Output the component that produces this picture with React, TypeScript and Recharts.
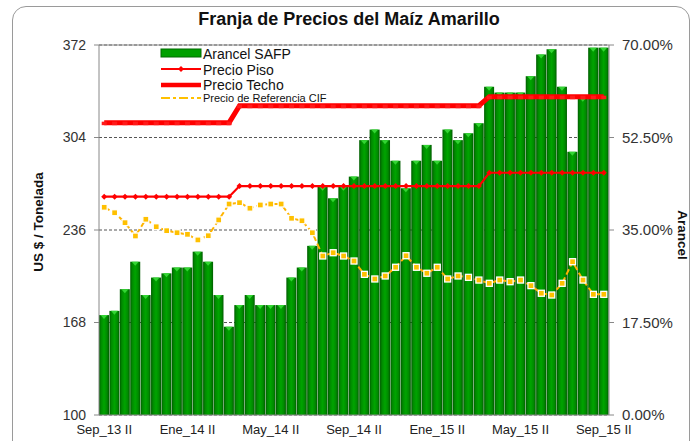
import React from 'react';
import { ComposedChart, Bar, Line, XAxis, YAxis, CartesianGrid, ReferenceLine } from 'recharts';

const FONT = '"Liberation Sans", Arial, sans-serif';

const categories = [
  'Sep_13 II', 'Oct_13 I', 'Oct_13 II', 'Nov_13 I', 'Nov_13 II', 'Dic_13 I', 'Dic_13 II',
  'Ene_14 I', 'Ene_14 II', 'Feb_14 I', 'Feb_14 II', 'Mar_14 I', 'Mar_14 II', 'Abr_14 I', 'Abr_14 II',
  'May_14 I', 'May_14 II', 'Jun_14 I', 'Jun_14 II', 'Jul_14 I', 'Jul_14 II', 'Ago_14 I', 'Ago_14 II',
  'Sep_14 I', 'Sep_14 II', 'Oct_14 I', 'Oct_14 II', 'Nov_14 I', 'Nov_14 II', 'Dic_14 I', 'Dic_14 II',
  'Ene_15 I', 'Ene_15 II', 'Feb_15 I', 'Feb_15 II', 'Mar_15 I', 'Mar_15 II', 'Abr_15 I', 'Abr_15 II',
  'May_15 I', 'May_15 II', 'Jun_15 I', 'Jun_15 II', 'Jul_15 I', 'Jul_15 II', 'Ago_15 I', 'Ago_15 II',
  'Sep_15 I', 'Sep_15 II',
];

// Arancel SAFP (%), right axis
const arancelSAFP = [
  18.9, 19.7, 23.8, 29.0, 22.7, 26.0, 26.8, 27.9, 27.9, 30.9,
  29.0, 22.7, 16.7, 20.8, 22.7, 20.8, 20.8, 20.8, 26.0, 27.9,
  32.0, 43.2, 41.0, 43.2, 45.1, 52.0, 54.0, 52.0, 48.1, 42.9,
  48.1, 51.1, 48.1, 54.0, 52.0, 53.3, 55.2, 62.1, 61.0, 61.0,
  61.0, 64.1, 68.2, 69.2, 62.1, 49.8, 60.0, 69.5, 69.5,
];

// Precio Piso (US$/t), left axis
const precioPiso = [
  260.5, 260.5, 260.5, 260.5, 260.5, 260.5, 260.5, 260.5, 260.5, 260.5,
  260.5, 260.5, 260.5, 268.3, 268.3, 268.3, 268.3, 268.3, 268.3, 268.3,
  268.3, 268.3, 268.3, 268.3, 268.3, 268.3, 268.3, 268.3, 268.3, 268.3,
  268.3, 268.3, 268.3, 268.3, 268.3, 268.3, 268.3, 278.1, 278.1, 278.1,
  278.1, 278.1, 278.1, 278.1, 278.1, 278.1, 278.1, 278.1, 278.1,
];

// Precio Techo (US$/t), left axis
const precioTecho = [
  314.9, 314.9, 314.9, 314.9, 314.9, 314.9, 314.9, 314.9, 314.9, 314.9,
  314.9, 314.9, 314.9, 327.4, 327.4, 327.4, 327.4, 327.4, 327.4, 327.4,
  327.4, 327.4, 327.4, 327.4, 327.4, 327.4, 327.4, 327.4, 327.4, 327.4,
  327.4, 327.4, 327.4, 327.4, 327.4, 327.4, 327.4, 334.0, 334.0, 334.0,
  334.0, 334.0, 334.0, 334.0, 334.0, 334.0, 334.0, 334.0, 334.0,
];

// Precio de Referencia CIF (US$/t), left axis
const precioCIF = [
  252.7, 248.7, 241.4, 231.6, 243.9, 238.4, 235.5, 234.0, 232.8, 228.7,
  231.8, 243.4, 255.1, 256.1, 252.0, 254.4, 255.1, 255.1, 244.6, 242.8,
  234.0, 216.9, 219.3, 216.9, 213.2, 203.4, 200.0, 202.2, 208.6, 217.1,
  208.6, 204.2, 208.6, 200.0, 202.2, 201.2, 199.2, 196.8, 199.2, 198.0,
  199.2, 195.1, 189.5, 188.2, 196.8, 212.7, 199.2, 188.7, 188.7,
];

const leftTicks = [100, 168, 236, 304, 372];
const rightTicks = [0, 17.5, 35, 52.5, 70];

const data = categories.map((c, i) => ({
  cat: c,
  arancel: arancelSAFP[i],
  piso: precioPiso[i],
  techo: precioTecho[i],
  cif: precioCIF[i],
}));

const BarShape = (props: any) => {
  const { x, y, width, height } = props;
  if (!height || height <= 0) return null;
  return (
    <g>
      <rect x={x} y={y} width={width} height={height} fill="url(#barGrad)" />
      <polygon
        points={`${x + 1.5},${y} ${x + width - 1.5},${y} ${x + width / 2},${y + 4}`}
        fill="#33d433"
      />
    </g>
  );
};

const PisoDot = (props: any) => {
  const { cx, cy, index } = props;
  if (cx == null || cy == null) return null;
  return (
    <path
      key={`p${index}`}
      d={`M${cx - 3},${cy} L${cx},${cy - 3} L${cx + 3},${cy} L${cx},${cy + 3} Z`}
      fill="#ff0000"
    />
  );
};

const TechoDot = (props: any) => {
  const { cx, cy, index } = props;
  if (cx == null || cy == null) return null;
  return <rect key={`t${index}`} x={cx - 2.5} y={cy - 1} width={5} height={3.5} fill="#ff1a1a" />;
};

const CifDot = (props: any) => {
  const { cx, cy, index } = props;
  if (cx == null || cy == null) return null;
  return (
    <rect
      key={`c${index}`}
      x={cx - 3}
      y={cy - 3}
      width={6}
      height={6}
      fill="#ffc000"
      stroke="#ffffff"
      strokeWidth={1.3}
    />
  );
};

export default function App() {
  return (
    <div
      style={{
        position: 'absolute',
        left: 0,
        top: 0,
        width: 699,
        height: 441,
        background: '#ffffff',
        overflow: 'hidden',
        fontFamily: FONT,
      }}
    >
      <div
        style={{
          position: 'absolute',
          left: 12,
          top: 6,
          width: 678,
          height: 470,
          border: '1.5px solid #9a9a9a',
          borderRadius: 14,
          boxSizing: 'border-box',
        }}
      />
      <div style={{ position: 'absolute', left: 0, top: 0 }}>
        <ComposedChart
          width={699}
          height={441}
          data={data}
          margin={{ top: 45, right: 0, bottom: 0, left: 0 }}
          barCategoryGap={0}
          barGap={0}
        >
          <defs>
            <linearGradient id="barGrad" x1="0" y1="0" x2="1" y2="0">
              <stop offset="0%" stopColor="#005c00" />
              <stop offset="20%" stopColor="#008a00" />
              <stop offset="50%" stopColor="#00a400" />
              <stop offset="80%" stopColor="#008a00" />
              <stop offset="100%" stopColor="#005c00" />
            </linearGradient>
          </defs>
          <CartesianGrid yAxisId="left" vertical={false} stroke="#555555" strokeDasharray="3 2" />
          <XAxis
            dataKey="cat"
            interval={7}
            tickLine={false}
            axisLine={{ stroke: '#888888' }}
            tick={{ fontSize: 13, fill: '#222222', fontFamily: FONT }}
            tickMargin={4}
            height={26}
          />
          <YAxis
            yAxisId="left"
            domain={[100, 372]}
            ticks={leftTicks}
            width={99}
            tickSize={5}
            tickMargin={8}
            tickLine={{ stroke: '#888888' }}
            axisLine={{ stroke: '#888888' }}
            tick={{ fontSize: 14, fill: '#333333', fontFamily: FONT }}
          />
          <YAxis
            yAxisId="right"
            orientation="right"
            domain={[0, 70]}
            ticks={rightTicks}
            width={90}
            tickSize={5}
            tickMargin={8}
            tickLine={{ stroke: '#888888' }}
            axisLine={{ stroke: '#888888' }}
            tickFormatter={(v: number) => v.toFixed(2) + '%'}
            tick={{ fontSize: 15, fill: '#333333', fontFamily: FONT }}
          />
          <ReferenceLine yAxisId="left" y={372} stroke="#888888" />
          <Bar yAxisId="right" dataKey="arancel" shape={<BarShape />} isAnimationActive={false} />
          <Line
            yAxisId="left"
            type="linear"
            dataKey="piso"
            stroke="#ff0000"
            strokeWidth={2.2}
            dot={<PisoDot />}
            activeDot={false}
            isAnimationActive={false}
          />
          <Line
            yAxisId="left"
            type="linear"
            dataKey="techo"
            stroke="#ff0000"
            strokeWidth={5}
            dot={<TechoDot />}
            activeDot={false}
            isAnimationActive={false}
          />
          <Line
            yAxisId="left"
            type="linear"
            dataKey="cif"
            stroke="#ffb400"
            strokeWidth={2}
            strokeDasharray="6 3"
            dot={<CifDot />}
            activeDot={false}
            isAnimationActive={false}
          />
        </ComposedChart>
      </div>
      <svg
        width={699}
        height={441}
        style={{ position: 'absolute', left: 0, top: 0, pointerEvents: 'none' }}
        fontFamily={FONT}
      >
        <text x={349} y={25} textAnchor="middle" fontSize={18} fontWeight="bold" fill="#111">
          Franja de Precios del Maíz Amarillo
        </text>
        <text
          transform="translate(43,222) rotate(-90)"
          textAnchor="middle"
          fontSize={13.5}
          fontWeight="bold"
          fill="#111"
        >
          US $ / Tonelada
        </text>
        <text
          transform="translate(678,235) rotate(90)"
          textAnchor="middle"
          fontSize={13.5}
          fontWeight="bold"
          fill="#111"
        >
          Arancel
        </text>
        {/* legend */}
        <rect x={161} y={49} width={40} height={8} fill="#00a000" stroke="#006a00" strokeWidth={1} />
        <text x={203} y={59} fontSize={14} fill="#111">Arancel SAFP</text>
        <line x1={161} x2={201} y1={69} y2={69} stroke="#ff0000" strokeWidth={2} />
        <path d="M178,69 L181,66 L184,69 L181,72 Z" fill="#ff0000" />
        <text x={203} y={75} fontSize={14} fill="#111">Precio Piso</text>
        <line x1={161} x2={201} y1={85} y2={85} stroke="#ff0000" strokeWidth={4.5} />
        <text x={203} y={90} fontSize={14} fill="#111">Precio Techo</text>
        <line
          x1={161}
          x2={201}
          y1={98}
          y2={98}
          stroke="#ffc000"
          strokeWidth={2}
          strokeDasharray="9 3 3 3"
        />
        <text x={203} y={102} fontSize={11} fill="#111">Precio de Referencia CIF</text>
      </svg>
    </div>
  );
}
